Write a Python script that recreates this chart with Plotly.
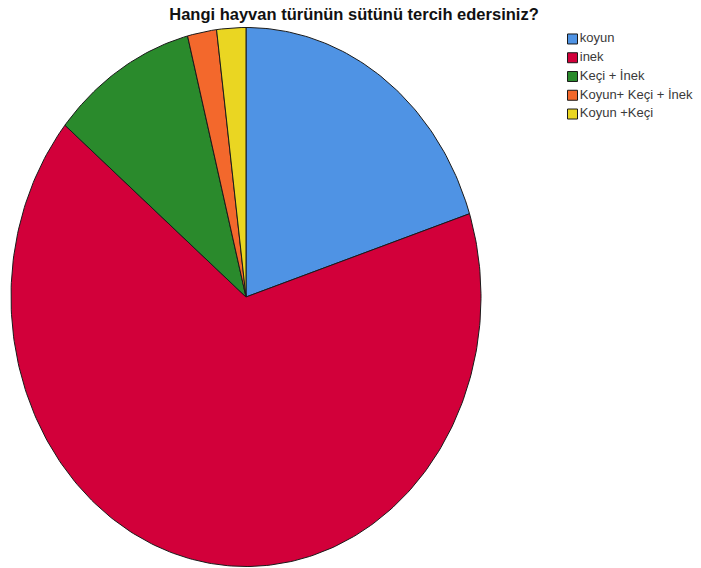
"""Survey pie: preferred milk by animal type (elliptical pie, SPSS style)."""

import numpy as np
import plotly.graph_objects as go

labels = ["koyun", "inek", "Keçi + İnek", "Koyun+ Keçi + İnek", "Koyun +Keçi"]
counts = [10, 33, 5, 1, 1]
colors = ["#4f93e4", "#d2003a", "#2a8a2c", "#f3682c", "#ead622"]

title = "Hangi hayvan türünün sütünü tercih edersiniz?"

W, H = 701, 568
# ellipse centre and radii in pixels (the pie is stretched vertically)
cx, cy, rx, ry = 246, 297, 235, 269.5

fig = go.Figure()

total = sum(counts)
start = 0.0
for lab, val, col in zip(labels, counts, colors):
    sweep = 2 * np.pi * val / total
    theta = np.linspace(start, start + sweep, max(int(sweep * 60), 4))
    xs = np.concatenate([[0], np.sin(theta), [0]])
    ys = np.concatenate([[0], np.cos(theta), [0]])
    fig.add_trace(
        go.Scatter(
            x=xs,
            y=ys,
            mode="lines",
            fill="toself",
            fillcolor=col,
            line=dict(color="#1a1a1a", width=1),
            name=lab,
            showlegend=False,
            hovertemplate=f"{lab}: {val} ({100 * val / total:.1f}%)<extra></extra>",
        )
    )
    start += sweep

# SPSS-like legend: small squares with the label just right of them
fig.add_trace(
    go.Scatter(
        x=[0] * len(labels),
        y=list(range(len(labels))),
        mode="markers+text",
        marker=dict(symbol="square", size=10, color=colors,
                    line=dict(color="#1a1a1a", width=1)),
        text=labels,
        textposition="middle right",
        textfont=dict(family="Liberation Sans, Arial", size=13, color="#3a3a3a"),
        xaxis="x2",
        yaxis="y2",
        showlegend=False,
        hoverinfo="skip",
    )
)

fig.update_layout(
    width=W,
    height=H,
    margin=dict(l=0, r=0, t=0, b=0, autoexpand=False),
    paper_bgcolor="white",
    plot_bgcolor="white",
    showlegend=False,
    title=dict(
        text=f"<b>{title}</b>",
        x=0.505,
        xanchor="center",
        y=1 - 14 / H,
        yanchor="middle",
        font=dict(family="Liberation Sans, Arial", size=16.5, color="#111111"),
    ),
    xaxis=dict(
        range=[(0 - cx) / rx, (W - cx) / rx],
        visible=False,
        fixedrange=True,
    ),
    yaxis=dict(
        range=[(cy - H) / ry, cy / ry],
        visible=False,
        fixedrange=True,
    ),
    xaxis2=dict(
        domain=[560 / W, 1],
        range=[-12.5, 128.5],
        visible=False,
        fixedrange=True,
    ),
    yaxis2=dict(
        domain=[1 - 123.4 / H, 1 - 29.6 / H],
        range=[4.5, -0.5],
        visible=False,
        fixedrange=True,
        anchor="x2",
    ),
)

# drop the browser's default 8px body margin so the figure sits at 0,0
fig.write_html(
    "out.html",
    config={"displayModeBar": False},
    post_script="document.body.style.margin='0';",
)
